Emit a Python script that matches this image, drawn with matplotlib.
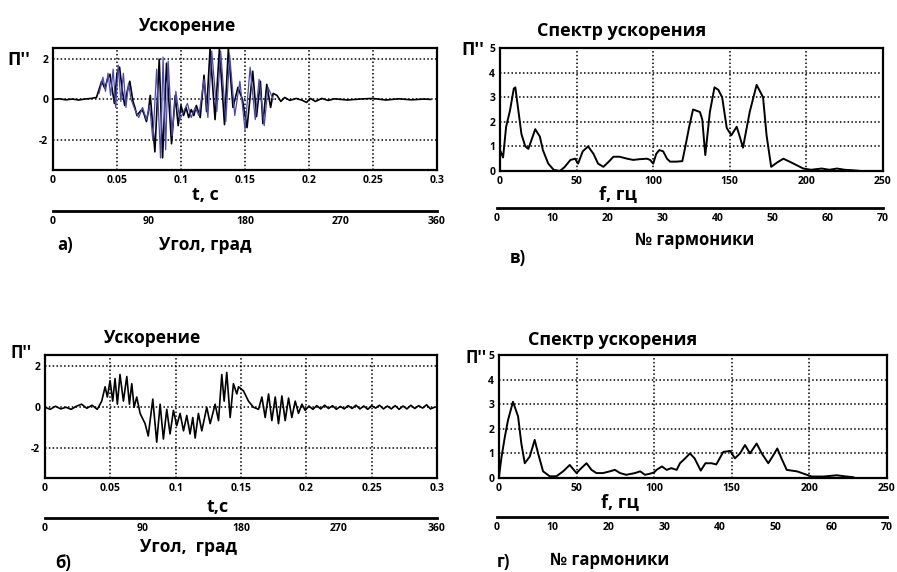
import matplotlib
matplotlib.use("Agg")
import matplotlib.pyplot as plt

plt.rcParams['font.family'] = ['Open Sans', 'DejaVu Sans']
plt.rcParams['axes.unicode_minus'] = False

# --- a) acceleration, time domain (black + blue traces) ---
a_t = [0, 0.005, 0.01, 0.015, 0.02, 0.025, 0.03, 0.034,
       0.036, 0.038, 0.0405, 0.0425, 0.0445, 0.046, 0.048, 0.050, 0.052, 0.054, 0.056, 0.058,
       0.060, 0.0625, 0.064, 0.0656, 0.068, 0.0695, 0.071, 0.073, 0.0745, 0.076,
       0.0796, 0.083, 0.0856, 0.0887, 0.0926, 0.0955, 0.0978, 0.100, 0.102, 0.104,
       0.106, 0.108, 0.110, 0.112, 0.115, 0.118, 0.120, 0.1227, 0.1266, 0.130,
       0.134, 0.137, 0.1406, 0.1445, 0.148, 0.1516, 0.156, 0.159, 0.162, 0.164,
       0.167, 0.170, 0.172, 0.175, 0.178, 0.181, 0.185, 0.190, 0.195, 0.198,
       0.201, 0.205, 0.210, 0.215, 0.220, 0.230, 0.240, 0.250, 0.260, 0.270,
       0.280, 0.290, 0.295]
a_black = [0, 0.03, -0.02, 0.02, -0.03, 0.02, 0.05, 0.1,
           0.5, 0.9, 0.55, 1.0, 1.25, 0.6, -0.2, 1.3, 1.6, 0.5, -0.3, 0.4,
           0.9, -0.1, -0.4, -0.8, -0.6, -0.5, -0.7, -1.1, -0.6, 0.2,
           -2.6, 2.0, -2.9, 1.8, -2.2, 0.2, -1.3, -0.3, -0.8, -0.4,
           -0.9, -0.5, -0.8, -0.3, -0.9, 1.2, -0.6, 2.5, -1.0, 2.5,
           -1.25, 2.5, -0.4, 0.6, 0.0, -1.4, 1.4, -0.85, 0.9, -1.2,
           0.75, -0.4, 0.3, 0.2, -0.1, 0.1, -0.05, 0.05, -0.05, -0.15,
           0.05, -0.1, 0.05, -0.05, 0.03, -0.03, 0.02, 0.05, -0.03, 0.03,
           -0.02, 0.02, 0.0]
a_blue_t = [0.036, 0.039, 0.041, 0.043, 0.045, 0.047, 0.049, 0.051, 0.053, 0.055,
            0.057, 0.059, 0.061, 0.064, 0.067, 0.070, 0.073, 0.0755, 0.078, 0.081,
            0.084, 0.086, 0.088, 0.090, 0.093, 0.096, 0.099, 0.102, 0.105, 0.108,
            0.111, 0.114, 0.118, 0.121, 0.124, 0.128, 0.131, 0.135, 0.138, 0.142,
            0.146, 0.150, 0.154, 0.158, 0.161, 0.165, 0.168, 0.172]
a_blue = [0.3, 1.1, 0.4, 1.3, 0.2, 1.5, -0.4, 1.7, -0.1, 1.3,
          -0.4, 0.8, 0.0, -0.5, -0.9, -0.4, -1.0, -0.3, -2.0, 1.5,
          -2.9, 2.1, -2.5, 1.9, -1.8, 0.4, -1.0, -0.6, -0.2, -0.9,
          -0.4, -0.8, 1.0, -0.9, 2.4, -0.6, 2.4, -1.1, 2.2, -0.8,
          0.9, -1.5, 1.6, -1.0, 1.0, -1.3, 0.6, 0.0]

# --- б) acceleration, time domain ---
b_t = [0, 0.004, 0.008, 0.012, 0.016, 0.020, 0.024, 0.028, 0.032, 0.036,
       0.040, 0.0434, 0.046, 0.0477, 0.0498, 0.0518, 0.0536, 0.0554, 0.0574, 0.060,
       0.0626, 0.0646, 0.0664, 0.0682, 0.0702, 0.0728, 0.0766, 0.0790, 0.0825, 0.0855,
       0.0881, 0.0906, 0.0932, 0.0957, 0.0983, 0.1008, 0.1034, 0.106, 0.1085, 0.111,
       0.1131, 0.1149, 0.1174, 0.120, 0.1238, 0.1264, 0.1302, 0.1328, 0.1353, 0.1371,
       0.1391, 0.1417, 0.1442, 0.1468, 0.1481, 0.1519, 0.1557, 0.1596, 0.1634, 0.166,
       0.1685, 0.1711, 0.1736, 0.1762, 0.1787, 0.1813, 0.1838, 0.1864, 0.1889, 0.1915,
       0.194, 0.1966, 0.1991,
       0.202, 0.205, 0.208, 0.211, 0.214, 0.217, 0.220, 0.223, 0.226, 0.229,
       0.232, 0.235, 0.238, 0.241, 0.244, 0.247, 0.250, 0.253, 0.256, 0.259,
       0.262, 0.265, 0.268, 0.271, 0.274, 0.277, 0.280, 0.283, 0.286, 0.289,
       0.292, 0.295, 0.298]
b_acc = [0.0, -0.1, 0.05, -0.08, 0.0, -0.1, 0.05, 0.15, -0.05, 0.1,
         -0.1, 0.3, 1.0, 0.5, 1.3, 0.3, 1.4, 0.15, 1.6, 0.3,
         1.5, 0.15, 1.15, 0.0, 0.5, -0.3, -0.8, -1.4, 0.4, -1.7,
         0.15, -1.55, -0.1, -1.3, -0.15, -0.9, -0.3, -1.15, -0.4, -1.3,
         -0.5, -1.5, -0.3, -1.15, 0.0, -0.8, 0.15, -0.65, 1.6, 0.3,
         1.7, -0.5, 1.15, 0.65, 1.0, 0.8, 0.3, 0.0, -0.1, 0.5,
         -0.5, 0.65, -0.65, 0.5, -0.8, 0.55, -0.65, 0.45, -0.5, 0.3,
         -0.3, 0.15, -0.15,
         0.06, -0.1, 0.08, -0.08, 0.1, -0.06, 0.08, -0.1, 0.04, -0.08,
         0.08, -0.06, 0.1, -0.08, 0.06, -0.1, 0.08, -0.04, 0.1, -0.08,
         0.06, -0.08, 0.08, -0.1, 0.06, -0.08, 0.1, -0.06, 0.08, -0.04,
         0.12, -0.08, 0.0]

# --- в) spectrum ---
v_f = [0, 2, 4, 6.5, 9, 10, 12, 14, 16.5, 18.5,
       20.5, 23, 26, 28, 31.5, 35, 39, 42, 46, 49,
       51, 54, 57.5, 61, 64, 67.5, 71, 74, 78, 83,
       87, 91, 96, 98, 100, 102, 104, 106.5, 109, 111,
       115, 119, 121, 123.5, 126, 130.5, 132, 134, 137, 140,
       142.5, 145, 148, 151, 154.5, 156, 158.6, 163, 167.5, 171.7,
       174, 177, 181, 185, 190, 198, 203, 210, 215, 220,
       225, 230, 236]
v_spec = [0.85, 0.55, 1.8, 2.45, 3.35, 3.4, 2.45, 1.5, 1.0, 0.9,
          1.25, 1.7, 1.4, 0.85, 0.3, 0.05, 0.0, 0.15, 0.45, 0.5,
          0.3, 0.8, 1.0, 0.7, 0.3, 0.17, 0.38, 0.58, 0.58, 0.5,
          0.45, 0.48, 0.5, 0.45, 0.3, 0.7, 0.85, 0.8, 0.5, 0.38,
          0.38, 0.4, 1.0, 1.8, 2.5, 2.4, 2.1, 0.65, 2.4, 3.4,
          3.3, 3.0, 1.75, 1.45, 1.8, 1.5, 0.95, 2.4, 3.5, 3.0,
          1.45, 0.17, 0.35, 0.5, 0.35, 0.1, 0.05, 0.1, 0.05, 0.1,
          0.05, 0.03, 0.0]

# --- г) spectrum ---
g_f = [0, 1.5, 3.7, 5.8, 9, 12.3, 14.4, 16.6, 19.8, 23,
       25.2, 28.4, 32.7, 37, 41.3, 45.6, 48.2, 50, 53, 56.4,
       59.6, 62.8, 67, 71.4, 74.7, 78, 82, 87.6, 91, 94,
       97, 100, 101.5, 105, 108, 111, 114.5, 116.6, 120, 123,
       126, 130, 133, 137, 140, 144.5, 149, 152, 155.3, 158.5,
       161.7, 166, 169.3, 173.5, 176.8, 179.3, 182, 185.4, 192, 197,
       201.5, 209, 217.6, 224, 228.3]
g_spec = [0.05, 0.8, 1.65, 2.35, 3.1, 2.5, 1.4, 0.6, 0.87, 1.55,
          1.0, 0.27, 0.07, 0.07, 0.27, 0.53, 0.33, 0.2, 0.4, 0.6,
          0.33, 0.2, 0.2, 0.27, 0.33, 0.2, 0.13, 0.2, 0.27, 0.13,
          0.17, 0.23, 0.33, 0.47, 0.33, 0.4, 0.33, 0.6, 0.8, 1.0,
          0.8, 0.3, 0.6, 0.6, 0.55, 1.06, 1.1, 0.8, 1.0, 1.34,
          1.0, 1.4, 1.0, 0.6, 0.93, 1.2, 0.8, 0.33, 0.27, 0.16,
          0.06, 0.06, 0.11, 0.06, 0.03]

time_ticks = [0, 0.05, 0.1, 0.15, 0.2, 0.25, 0.3]
time_labels = ['0', '0.05', '0.1', '0.15', '0.2', '0.25', '0.3']
angle_ticks = [0, 90, 180, 270, 360]
freq_ticks = [0, 50, 100, 150, 200, 250]
harm_ticks = [0, 10, 20, 30, 40, 50, 60, 70]

W, H = 897, 572
TICKSIZE = 7.5


def rect(x0, y0, x1, y1):
    # pixel box (top-left origin) -> figure fraction
    return [x0 / W, 1 - y1 / H, (x1 - x0) / W, (y1 - y0) / H]


def main_axes(fig, box, xlim, ylim, xticks, yticks, xlabels=None):
    ax = fig.add_axes(rect(*box))
    ax.set_xlim(*xlim)
    ax.set_ylim(*ylim)
    ax.set_xticks(xticks)
    ax.set_yticks(yticks)
    if xlabels is not None:
        ax.set_xticklabels(xlabels)
    for lab in ax.get_xticklabels() + ax.get_yticklabels():
        lab.set_fontsize(TICKSIZE)
        lab.set_fontweight('bold')
    ax.tick_params(length=0, pad=3.5)
    ax.grid(True, color='black', linestyle=(0, (1, 1.5)), linewidth=1.1)
    for sp in ax.spines.values():
        sp.set_linewidth(1.6)
    return ax


def second_axis(fig, x0, x1, y, xlim, ticks):
    ax = fig.add_axes([x0 / W, 1 - y / H, (x1 - x0) / W, 0.0001])
    ax.patch.set_visible(False)
    for name in ('top', 'left', 'right'):
        ax.spines[name].set_visible(False)
    ax.spines['bottom'].set_linewidth(2.0)
    ax.set_xlim(*xlim)
    ax.set_xticks(ticks)
    ax.set_yticks([])
    for lab in ax.get_xticklabels():
        lab.set_fontsize(TICKSIZE)
        lab.set_fontweight('bold')
    ax.tick_params(length=0, pad=3.5)
    return ax


fig = plt.figure(figsize=(8.97, 5.72), dpi=100)

# a)
ax = main_axes(fig, (53, 48, 437, 170), (0, 0.3), (-3.5, 2.55), time_ticks, [-2, 0, 2], time_labels)
ax.plot(a_t, a_black, color='black', linewidth=1.2)
ax.plot(a_blue_t, a_blue, color='#4a48b8', linewidth=0.9)
second_axis(fig, 53, 437, 211, (0, 360), angle_ticks)

# в)
ax = main_axes(fig, (500, 48, 883, 171), (0, 250), (0, 5), freq_ticks, [0, 1, 2, 3, 4, 5])
ax.plot(v_f, v_spec, color='black', linewidth=1.4)
second_axis(fig, 497, 883, 208, (0, 70), harm_ticks)

# б)
ax = main_axes(fig, (45, 355, 437, 478), (0, 0.3), (-3.45, 2.55), time_ticks, [-2, 0, 2], time_labels)
ax.plot(b_t, b_acc, color='black', linewidth=1.2)
second_axis(fig, 45, 437, 518, (0, 360), angle_ticks)

# г)
ax = main_axes(fig, (499, 355, 887, 478), (0, 250), (0, 5), freq_ticks, [0, 1, 2, 3, 4, 5])
ax.plot(g_f, g_spec, color='black', linewidth=1.4)
second_axis(fig, 497, 887, 517, (0, 70), harm_ticks)


def label(x, y, s, size=12, ha='center'):
    fig.text(x / W, 1 - y / H, s, fontsize=size, fontweight='bold', ha=ha, va='center')


label(188, 26, 'Ускорение', 12.5)
label(7, 60, "П''", 13, 'left')
label(205, 195, 't, с', 13)
label(205, 245, 'Угол, град', 12.5)
label(65, 245, 'а)', 12)

label(622, 31, 'Спектр ускорения', 13)
label(461, 50, "П''", 13, 'left')
label(618, 195, 'f, гц', 13)
label(695, 240, '№ гармоники', 12)
label(518, 258, 'в)', 12)

label(153, 338, 'Ускорение', 12.5)
label(10, 353, "П''", 12, 'left')
label(218, 507, 't,с', 13)
label(188, 547, 'Угол,  град', 12.5)
label(63, 563, 'б)', 12)

label(613, 340, 'Спектр ускорения', 13)
label(465, 358, "П''", 12, 'left')
label(620, 503, 'f, гц', 13)
label(610, 560, '№ гармоники', 12)
label(503, 562, 'г)', 12)

plt.savefig('out.png', dpi=100)
